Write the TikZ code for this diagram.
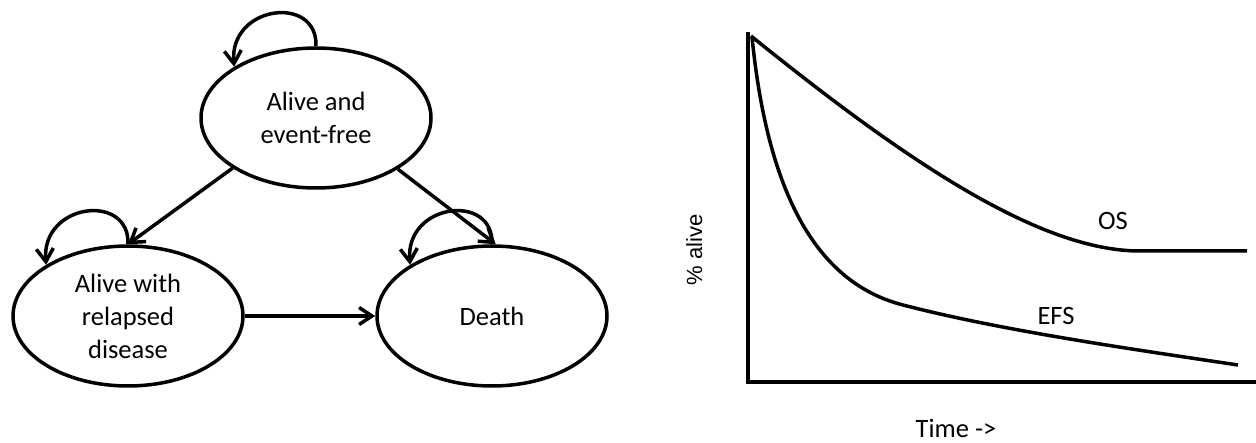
\documentclass[tikz,border=0pt]{standalone}
\usepackage{fontspec}
\setmainfont{Carlito}
\newfontfamily\arialfont{Liberation Sans}
\usetikzlibrary{shapes.geometric,arrows.meta}
\tikzset{
  state/.style={draw, ellipse, line width=3.5pt, minimum width=230pt, minimum height=140pt,
    inner sep=0pt, align=center, font=\fontsize{26.5}{33}\selectfont},
  conn/.style={line width=3.5pt, -{Straight Barb[length=13pt,width=17pt,line width=3.5pt]}},
  loopc/.style={line width=3.5pt, -{Straight Barb[length=13pt,width=17pt,line width=3.5pt]}},
  axisline/.style={line width=4.5pt},
  curve/.style={line width=3.5pt},
  lbl/.style={font=\fontsize{26.5}{33}\selectfont, anchor=base, inner sep=0pt},
}
\begin{document}
\begin{tikzpicture}[x=1pt, y=-1pt]
\useasboundingbox (0,0) rectangle (1256,443);
% state diagram
\node[state] (top) at (316,118) {Alive and\\event-free};
\node[state] (rel) at (128,316) {Alive with\\relapsed\\disease};
\node[state] (death) at (492,316) {Death};
\draw[conn] (top.211) -- (rel.north);
\draw[conn] (top.328) -- (death.87);
\draw[conn] (rel.east) -- (death.west);
\draw[loopc] (top.north) .. controls +(2,-52) and +(-5,-62) .. (top.148);
\draw[loopc] (rel.north) .. controls +(2,-52) and +(-5,-62) .. (rel.148);
\draw[loopc] (death.north) .. controls +(2,-52) and +(-5,-62) .. (death.148);
% survival chart
\coordinate (ytop) at (748,32);
\coordinate (orig) at (748,382);
\coordinate (xend) at (1256,382);
\draw[axisline] (ytop) -- (orig) -- (xend);
\coordinate (s) at (751,36);
\coordinate (osknee) at (1140,251);
\coordinate (osend) at (1247,251);
\draw[curve] (s) .. controls (907,162) and (1040,251) .. (osknee) -- (osend);
\coordinate (e0) at (752,37);
\coordinate (e1) at (903,305);
\coordinate (e2) at (1238,365);
\draw[curve] (e0) .. controls (767,187) and (813,282) .. (e1) .. controls (1003,331) and (1138,350) .. (e2);
\node[lbl] (os) at (1113,230) {OS};
\node[lbl] (efs) at (1056,325) {EFS};
\node[lbl] (time) at (956,438) {Time ->};
\node[font=\arialfont\fontsize{22}{26}\selectfont, rotate=90, anchor=base, inner sep=0pt] (alive) at (702,250) {\% alive};
\end{tikzpicture}
\end{document}
